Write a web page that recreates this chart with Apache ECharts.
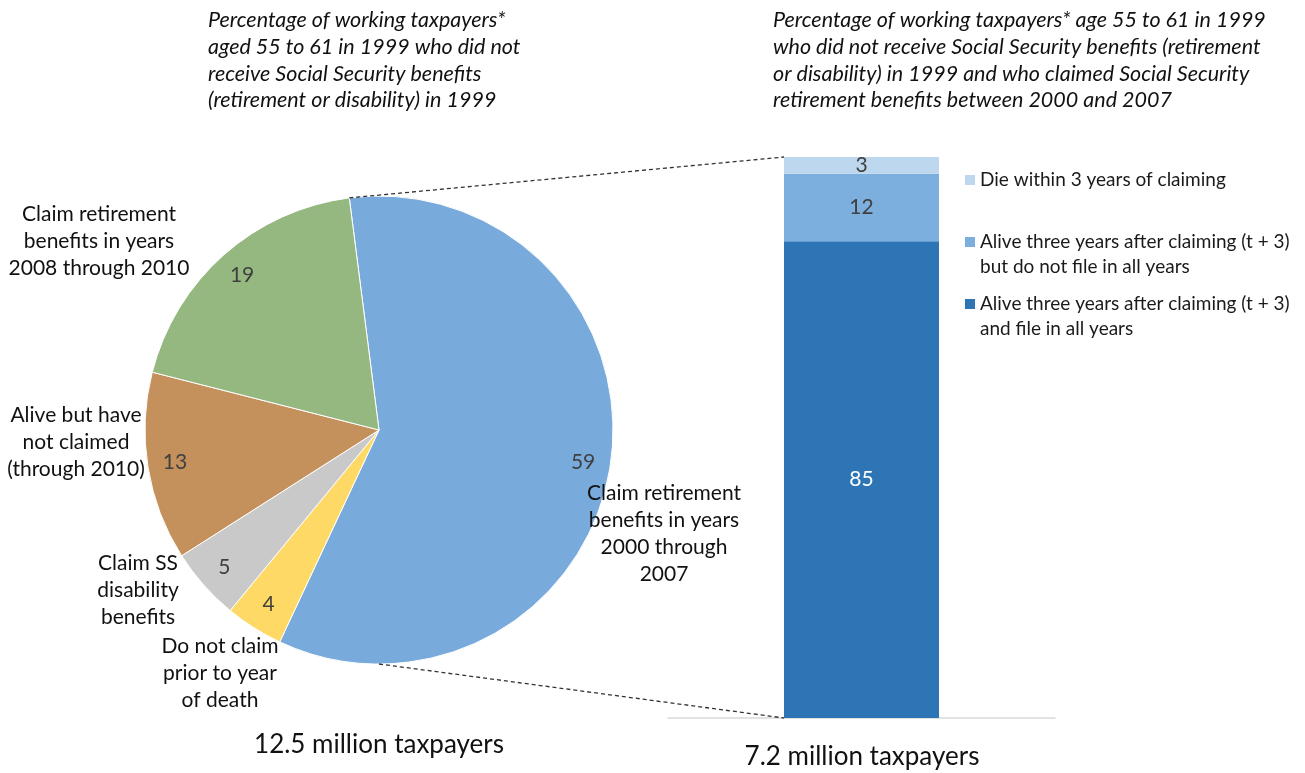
<!DOCTYPE html>
<html>
<head>
<meta charset="utf-8">
<script src="https://cdn.jsdelivr.net/npm/echarts@6/dist/echarts.min.js"></script>
<style>
  html, body { margin: 0; padding: 0; background: #ffffff; }
  #chart { width: 1305px; height: 773px; }
</style>
</head>
<body>
<div id="chart"></div>
<script>
// ---- data ----
const pieCategories = [
  'Claim retirement\nbenefits in years\n2000 through\n2007',
  'Do not claim\nprior to year\nof death',
  'Claim SS\ndisability\nbenefits',
  'Alive but have\nnot claimed\n(through 2010)',
  'Claim retirement\nbenefits in years\n2008 through 2010'
];
const pieValues = [59, 4, 5, 13, 19];

const barCategories = ['Claimed 2000 through 2007'];
const barSeriesNames = [
  'Alive three years after claiming (t + 3)\nand file in all years',
  'Alive three years after claiming (t + 3)\nbut do not file in all years',
  'Die within 3 years of claiming'
];
const fileAllYears = [85];
const notAllYears = [12];
const dieWithin3 = [3];

const leftTitle = 'Percentage of working taxpayers*\naged 55 to 61 in 1999 who did not\nreceive Social Security benefits\n(retirement or disability) in 1999';
const rightTitle = 'Percentage of working taxpayers* age 55 to 61 in 1999\nwho did not receive Social Security benefits (retirement\nor disability) in 1999 and who claimed Social Security\nretirement benefits between 2000 and 2007';
const leftTotal = '12.5 million taxpayers';
const rightTotal = '7.2 million taxpayers';

// ---- layout & style ----
const FONT = 'Lato, "Open Sans", sans-serif';
const PIE_CX = 379, PIE_CY = 430, PIE_R = 234;
const PIE_START = 97.3;
const BAR_WIDTH = 155;
const pieColors = ['#78abdb', '#ffd965', '#c9c9c9', '#c4905c', '#95b880'];
const barColors = ['#2e75b6', '#7dafde', '#bdd7ee'];
// hand-placed category label anchors (text centre), by slice index
const pieLabelAnchors = [[664, 534], [220, 673], [138, 590], [76, 442], [99, 241]];

const chart = echarts.init(document.getElementById('chart'), null, { renderer: 'canvas' });

const pieData = pieCategories.map((name, i) => ({
  name: name, value: pieValues[i], itemStyle: { color: pieColors[i] }
}));

// one legend per entry so the swatch lines up with the first text line
function legendFor(name, top, twoLines) {
  return {
    data: [name],
    left: 965,
    top: top,
    padding: 0,
    orient: 'vertical',
    itemWidth: 10,
    itemHeight: 10,
    icon: 'rect',
    selectedMode: false,
    formatter: twoLines ? (n) => '\n' + n : (n) => n,
    textStyle: { fontFamily: FONT, fontSize: 19, color: '#1a1a1a', lineHeight: 25 }
  };
}

const option = {
  backgroundColor: '#ffffff',
  animation: false,
  grid: { left: 668, width: 387, top: 157, bottom: 55 },
  xAxis: {
    type: 'category',
    data: barCategories,
    axisLine: { lineStyle: { color: '#d9d9d9', width: 1.5 } },
    axisTick: { show: false },
    axisLabel: { show: false }
  },
  yAxis: {
    type: 'value', min: 0, max: 100, show: false, splitLine: { show: false }
  },
  legend: [
    legendFor(barSeriesNames[2], 167.5, false),
    legendFor(barSeriesNames[1], 204.5, true),
    legendFor(barSeriesNames[0], 266.5, true)
  ],
  series: [
    {
      type: 'pie',
      center: [PIE_CX, PIE_CY],
      radius: [0, PIE_R],
      startAngle: PIE_START,
      clockwise: true,
      silent: true,
      itemStyle: { borderColor: '#ffffff', borderWidth: 1 },
      label: {
        show: true, position: 'outside', formatter: '{b}', overflow: 'none',
        fontFamily: FONT, fontSize: 21, lineHeight: 27, color: '#111111', align: 'center'
      },
      labelLine: { show: false },
      labelLayout: function (p) {
        const a = pieLabelAnchors[p.dataIndex];
        return { x: a[0], y: a[1], align: 'center', verticalAlign: 'middle' };
      },
      data: pieData
    },
    {
      // value labels sitting in the outer ring of each slice
      type: 'pie',
      center: [PIE_CX, PIE_CY],
      radius: [PIE_R * 0.74, PIE_R],
      startAngle: PIE_START,
      clockwise: true,
      silent: true,
      itemStyle: { color: 'rgba(0,0,0,0)', borderWidth: 0 },
      label: {
        show: true, position: 'inside', formatter: '{c}',
        fontFamily: FONT, fontSize: 21, color: '#404040'
      },
      labelLine: { show: false },
      data: pieCategories.map((name, i) => ({ name: name, value: pieValues[i] }))
    },
    {
      name: barSeriesNames[0], type: 'bar', stack: 'claim', barWidth: BAR_WIDTH,
      itemStyle: { color: barColors[0] }, silent: true,
      label: { show: true, position: 'inside', color: '#ffffff', fontFamily: FONT, fontSize: 21 },
      data: fileAllYears
    },
    {
      name: barSeriesNames[1], type: 'bar', stack: 'claim', barWidth: BAR_WIDTH,
      itemStyle: { color: barColors[1] }, silent: true,
      label: { show: true, position: 'inside', color: '#404040', fontFamily: FONT, fontSize: 21 },
      data: notAllYears
    },
    {
      name: barSeriesNames[2], type: 'bar', stack: 'claim', barWidth: BAR_WIDTH,
      itemStyle: { color: barColors[2] }, silent: true,
      label: { show: true, position: 'inside', color: '#404040', fontFamily: FONT, fontSize: 21 },
      data: dieWithin3
    }
  ]
};

chart.setOption(option);

// connector lines from the blue slice to the stacked bar, plus titles and totals
const barTop = chart.convertToPixel({ xAxisIndex: 0, yAxisIndex: 0 }, [0, 100]);
const barBottom = chart.convertToPixel({ xAxisIndex: 0, yAxisIndex: 0 }, [0, 0]);
const barLeft = barTop[0] - BAR_WIDTH / 2;
const startRad = PIE_START * Math.PI / 180;
const sliceStart = [PIE_CX + PIE_R * Math.cos(startRad), PIE_CY - PIE_R * Math.sin(startRad)];
const pieBottom = [PIE_CX, PIE_CY + PIE_R];
const dash = { stroke: '#333333', lineWidth: 1.3, lineDash: [4, 3] };

chart.setOption({
  graphic: [
    { type: 'line', silent: true, z: 10,
      shape: { x1: sliceStart[0], y1: sliceStart[1], x2: barLeft, y2: barTop[1] }, style: dash },
    { type: 'line', silent: true, z: 10,
      shape: { x1: pieBottom[0], y1: pieBottom[1], x2: barLeft, y2: barBottom[1] }, style: dash },
    { type: 'text', x: 208, y: 7, silent: true,
      style: { text: leftTitle, fontFamily: FONT, fontStyle: 'italic', fontSize: 21.5, lineHeight: 26.7, fill: '#111111' } },
    { type: 'text', x: 773, y: 7, silent: true,
      style: { text: rightTitle, fontFamily: FONT, fontStyle: 'italic', fontSize: 21.5, lineHeight: 26.7, fill: '#111111' } },
    { type: 'text', x: 379, y: 745, silent: true,
      style: { text: leftTotal, fontFamily: FONT, fontSize: 26, fill: '#111111', align: 'center', verticalAlign: 'middle' } },
    { type: 'text', x: 862, y: 757, silent: true,
      style: { text: rightTotal, fontFamily: FONT, fontSize: 26, fill: '#111111', align: 'center', verticalAlign: 'middle' } }
  ]
});
</script>
</body>
</html>
